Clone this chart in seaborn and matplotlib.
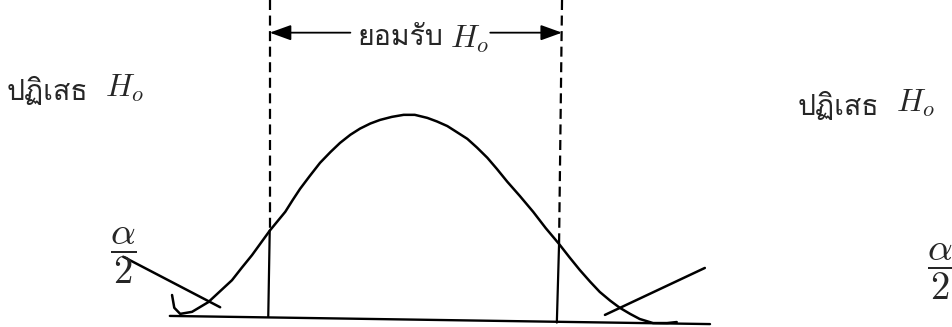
import matplotlib
matplotlib.use("Agg")
import matplotlib.pyplot as plt
import seaborn as sns
import numpy as np
from matplotlib import font_manager
from matplotlib.ft2font import FT2Font

# curve (z units, density)
curve_z = [-3.27, -3.24, -3.16, -3.00, -2.78, -2.46, -2.33, -2.19, -2.07, -1.95,
           -1.74, -1.64, -1.54, -1.41, -1.27, -1.13, -1.00, -0.86, -0.73, -0.59,
           -0.46, -0.30, -0.14, 0.01, 0.18, 0.31, 0.45, 0.58, 0.72, 0.85, 0.99,
           1.12, 1.26, 1.43, 1.61, 1.78, 1.96, 2.10, 2.24, 2.38, 2.51, 2.65,
           2.78, 2.92, 3.05, 3.23, 3.42, 3.55]
curve_d = [0.049, 0.024, 0.012, 0.016, 0.035, 0.078, 0.102, 0.127, 0.151, 0.175,
           0.212, 0.235, 0.257, 0.282, 0.308, 0.329, 0.347, 0.363, 0.375, 0.385,
           0.392, 0.398, 0.402, 0.402, 0.396, 0.389, 0.380, 0.368, 0.355, 0.338,
           0.318, 0.296, 0.271, 0.243, 0.212, 0.180, 0.149, 0.123, 0.098, 0.075,
           0.055, 0.038, 0.024, 0.012, 0.002, -0.006, -0.006, -0.004]

# baseline (scan is slightly tilted)
base_z = [-3.30, 4.00]
base_d = [0.008, -0.008]

# critical values: top of page, crossing with curve, baseline
crit_top = 0.627
left_z = [-1.95, -1.95, -1.97]
left_d = [crit_top, 0.175, 0.006]
right_z = [2.00, 1.96, 1.93]
right_d = [crit_top, 0.149, -0.005]

# pointer lines from the alpha/2 labels into the tails
ptr_left_z = [-3.93, -2.62]
ptr_left_d = [0.124, 0.025]
ptr_right_z = [2.58, 3.93]
ptr_right_d = [0.010, 0.102]

arrow_d = 0.563

reject_label = "ปฏิเสธ"
accept_label = "ยอมรับ"
h0_label = r"$H_o$"
alpha_label = r"$\dfrac{\alpha}{2}$"


def thai_family():
    for f in font_manager.fontManager.ttflist:
        try:
            if 0x0E1B in FT2Font(f.fname).get_charmap():
                return f.name
        except Exception:
            pass
    return "DejaVu Sans"


sns.set_style("white")
plt.rcParams["mathtext.fontset"] = "cm"
thai = [thai_family(), "DejaVu Sans"]

fig = plt.figure(figsize=(9.52, 3.27), dpi=100)
ax = fig.add_axes([0, 0, 1, 1])

sns.lineplot(x=curve_z, y=curve_d, sort=False, color="black", lw=1.8, ax=ax)
ax.plot(base_z, base_d, color="black", lw=1.7)

dash = (0, (4.5, 2.5))
for zs, ds in [(left_z, left_d), (right_z, right_d)]:
    ax.plot(zs[:2], ds[:2], color="black", lw=1.6, linestyle=dash)
    ax.plot(zs[1:], ds[1:], color="black", lw=1.6)

ax.plot(ptr_left_z, ptr_left_d, color="black", lw=1.8)
ax.plot(ptr_right_z, ptr_right_d, color="black", lw=1.8)

arrow = dict(arrowstyle="-|>,head_length=1.3,head_width=0.47", color="black",
             lw=1.3, mutation_scale=10, shrinkA=0, shrinkB=0)
ax.annotate("", xy=(left_z[0], arrow_d), xytext=(-0.86, arrow_d), arrowprops=arrow)
ax.annotate("", xy=(right_z[0], arrow_d), xytext=(1.03, arrow_d), arrowprops=arrow)

# labels
thai_size = 20.5
ax.text(-5.50, 0.431, reject_label, family=thai, fontsize=thai_size, va="baseline")
ax.text(-0.76, 0.539, accept_label, family=thai, fontsize=thai_size, va="baseline")
ax.text(5.18, 0.402, reject_label, family=thai, fontsize=thai_size, va="baseline")

ax.text(-4.18, 0.437, h0_label, fontsize=23, va="baseline")
ax.text(0.49, 0.533, h0_label, fontsize=23, va="baseline")
ax.text(6.51, 0.408, h0_label, fontsize=23, va="baseline")

ax.text(-3.93, 0.125, alpha_label, fontsize=28, ha="center", va="center")
ax.text(7.11, 0.094, alpha_label, fontsize=28, ha="center", va="center")

ax.set_xlim(-5.595, 7.27)
ax.set_ylim(-0.0137, 0.627)
ax.axis("off")

fig.savefig("out.png", dpi=100)
